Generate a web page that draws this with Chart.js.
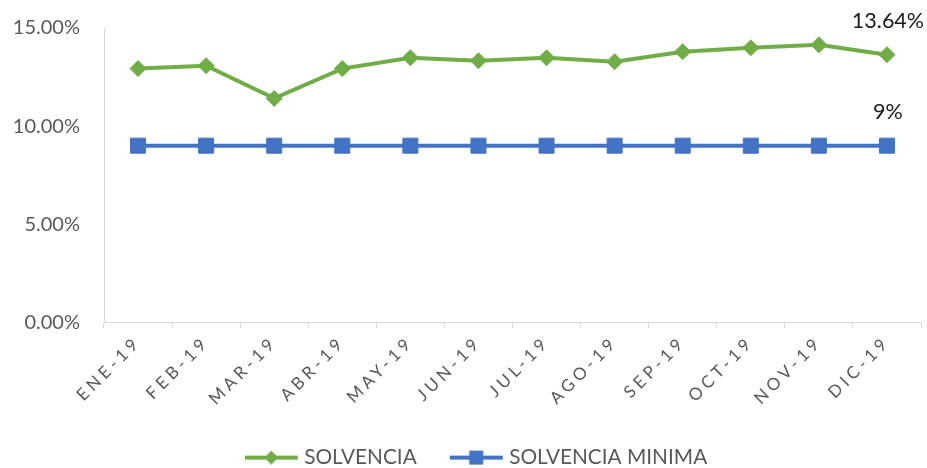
<!DOCTYPE html>
<html>
<head>
<meta charset="utf-8">
<script src="https://cdn.jsdelivr.net/npm/chart.js@4/dist/chart.umd.min.js"></script>
<style>
  html, body { margin: 0; padding: 0; background: #fff; }
  #wrap { width: 927px; height: 468px; }
</style>
</head>
<body>
<div id="wrap"><canvas id="solvenciaChart" width="927" height="468"></canvas></div>
<script>
// Datos
const meses = ['ENE-19', 'FEB-19', 'MAR-19', 'ABR-19', 'MAY-19', 'JUN-19',
               'JUL-19', 'AGO-19', 'SEP-19', 'OCT-19', 'NOV-19', 'DIC-19'];
const solvencia = [12.93, 13.08, 11.41, 12.93, 13.48, 13.33, 13.48, 13.28, 13.79, 13.99, 14.14, 13.64];
const solvenciaMinima = [9, 9, 9, 9, 9, 9, 9, 9, 9, 9, 9, 9];
const etiquetasFinales = ['13.64%', '9%'];
const ejeY = { min: 0, max: 15, paso: 5 };

const VERDE = '#70AD47';
const AZUL = '#4472C4';
const GRIS = '#595959';

// Icono de leyenda: linea con marcador
function iconoLeyenda(color, forma) {
    const c = document.createElement('canvas');
    c.width = 90; c.height = 20;
    const g = c.getContext('2d');
    g.strokeStyle = color; g.fillStyle = color; g.lineWidth = 4;
    g.beginPath(); g.moveTo(36, 10); g.lineTo(89, 10); g.stroke();
    const cx = 62.5, cy = 10;
    g.beginPath();
    if (forma === 'rombo') {
        g.moveTo(cx - 7, cy); g.lineTo(cx, cy - 7); g.lineTo(cx + 7, cy); g.lineTo(cx, cy + 7);
    } else {
        g.rect(cx - 7, cy - 7, 14, 14);
    }
    g.closePath(); g.fill();
    return c;
}
const iconos = [iconoLeyenda(VERDE, 'rombo'), iconoLeyenda(AZUL, 'cuadro')];

// Etiqueta de valor sobre el ultimo punto
const etiquetaFinal = {
    id: 'etiquetaFinal',
    afterDatasetsDraw(chart) {
        const ctx = chart.ctx;
        ctx.save();
        ctx.font = '21.5px Lato';
        ctx.fillStyle = '#1a1a1a';
        ctx.textAlign = 'center';
        ctx.textBaseline = 'middle';
        chart.data.datasets.forEach((ds, i) => {
            const meta = chart.getDatasetMeta(i);
            const p = meta.data[meta.data.length - 1];
            ctx.fillText(etiquetasFinales[i], p.x + 1, p.y - 34);
        });
        ctx.restore();
    }
};

// Espaciado de letras en las etiquetas del eje X
const espaciadoX = {
    id: 'espaciadoX',
    afterLayout(chart) {
        const sx = chart.scales.x;
        if (sx._parcheado) return;
        const orig = sx.drawLabels;
        sx.drawLabels = function(area) {
            const ctx = this.ctx;
            ctx.save();
            ctx.letterSpacing = '4px';
            orig.call(this, area);
            ctx.restore();
        };
        sx._parcheado = true;
    }
};

const ctx = document.getElementById('solvenciaChart').getContext('2d');
new Chart(ctx, {
    type: 'line',
    data: {
        labels: meses,
        datasets: [{
            label: 'SOLVENCIA',
            data: solvencia,
            borderColor: VERDE,
            backgroundColor: VERDE,
            borderWidth: 4,
            pointStyle: 'rectRot',
            pointRadius: 8,
            pointBorderWidth: 1,
            tension: 0
        }, {
            label: 'SOLVENCIA MINIMA',
            data: solvenciaMinima,
            borderColor: AZUL,
            backgroundColor: AZUL,
            borderWidth: 4,
            pointStyle: 'rect',
            pointRadius: 10.6,
            pointBorderWidth: 1,
            tension: 0
        }]
    },
    options: {
        responsive: false,
        animation: false,
        layout: { autoPadding: false, padding: { top: 26, right: 6, left: 0, bottom: -10 } },
        scales: {
            x: {
                offset: true,
                grid: { offset: true, drawOnChartArea: false, tickLength: 6, color: '#d9d9d9' },
                border: { color: '#d9d9d9', width: 1 },
                ticks: {
                    minRotation: 45, maxRotation: 45, autoSkip: false,
                    font: { family: 'Lato', size: 17 }, color: GRIS, padding: 4
                },
                afterFit(scale) {
                    scale.height = 123;
                    scale.paddingRight = 0;
                }
            },
            y: {
                min: ejeY.min, max: ejeY.max,
                grid: { display: false },
                border: { color: '#d9d9d9', width: 1 },
                ticks: {
                    stepSize: ejeY.paso,
                    padding: 16,
                    font: { family: 'Lato', size: 20 }, color: GRIS,
                    callback: v => v.toFixed(2) + '%'
                },
                afterFit(scale) { scale.width = 104; }
            }
        },
        plugins: {
            tooltip: { enabled: false },
            legend: {
                position: 'bottom',
                labels: {
                    usePointStyle: true,
                    pointStyleWidth: 80,
                    padding: 2,
                    color: GRIS,
                    font: { family: 'Lato', size: 20.8 },
                    generateLabels(chart) {
                        const base = Chart.defaults.plugins.legend.labels.generateLabels(chart);
                        return base.map((it, i) => Object.assign(it, { pointStyle: iconos[i] }));
                    }
                }
            }
        }
    },
    plugins: [etiquetaFinal, espaciadoX]
});
</script>
</body>
</html>
